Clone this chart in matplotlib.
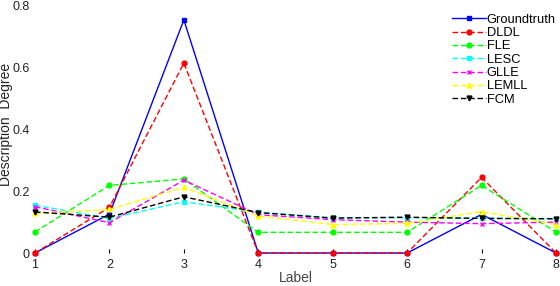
import numpy as np
import matplotlib.pyplot as plt

plt.rcParams['font.family'] = ['Liberation Sans', 'DejaVu Sans']

labels = [1, 2, 3, 4, 5, 6, 7, 8]
groundtruth = [0.0, 0.126, 0.755, 0.0, 0.0, 0.0, 0.125, 0.0]
dldl = [0.0, 0.148, 0.615, 0.0, 0.0, 0.0, 0.245, 0.0]
fle = [0.068, 0.219, 0.240, 0.067, 0.067, 0.067, 0.219, 0.068]
lesc = [0.155, 0.112, 0.166, 0.132, 0.114, 0.114, 0.113, 0.110]
glle = [0.150, 0.098, 0.236, 0.124, 0.108, 0.100, 0.095, 0.100]
lemll = [0.128, 0.141, 0.213, 0.120, 0.092, 0.096, 0.134, 0.092]
fcm = [0.133, 0.116, 0.182, 0.131, 0.113, 0.116, 0.112, 0.111]

series = [
    ("Groundtruth", groundtruth, "#0000ff", "-", "s"),
    ("DLDL", dldl, "#ff0000", "--", "o"),
    ("FLE", fle, "#00ff00", "--", "o"),
    ("LESC", lesc, "#00ffff", "--", "s"),
    ("GLLE", glle, "#ff00ff", "--", "x"),
    ("LEMLL", lemll, "#ffff00", "--", "^"),
    ("FCM", fcm, "#000000", "--", "v"),
]

fig = plt.figure(figsize=(5.6, 2.86), dpi=100)
ax = fig.add_axes([35 / 560, 33 / 286, 521 / 560, 247 / 286])

for name, vals, color, ls, mk in series:
    ax.plot(labels, vals, color=color, linestyle=ls, linewidth=1,
            marker=mk, markersize=3.5, markeredgewidth=1, label=name,
            dashes=(4, 2) if ls == "--" else (None, None), clip_on=False)

ax.set_xlim(1, 8)
ax.set_ylim(0, 0.8)
ax.set_xticks(labels)
ax.set_yticks([0, 0.2, 0.4, 0.6, 0.8])
ax.set_yticklabels(["0", "0.2", "0.4", "0.6", "0.8"])
for s in ax.spines.values():
    s.set_visible(False)
ax.tick_params(axis="x", direction="in", length=3, width=0.8, labelsize=9, pad=4,
               labelcolor="#222222")
ax.tick_params(axis="y", length=0, labelsize=9, pad=4, labelcolor="#222222")
ax.set_xlabel("Label", fontsize=10, color="#444444", labelpad=0)
ax.set_ylabel("Description  Degree", fontsize=10, color="#222222")
ax.yaxis.set_label_coords(-0.042, 0.52)

ax.legend(loc="upper right", bbox_to_anchor=(1.012, 0.995), frameon=False,
          fontsize=9.3, handlelength=2.6, handletextpad=0.1, labelspacing=0.1,
          borderaxespad=0.1)

fig.savefig("out.png", dpi=100)
